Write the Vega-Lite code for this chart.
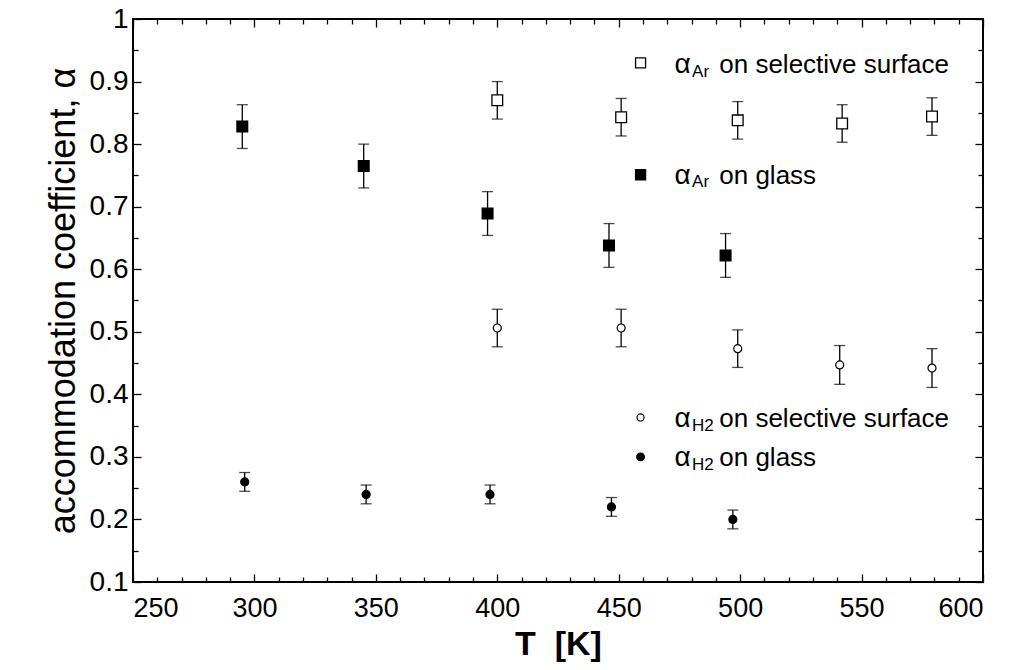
{
  "$schema": "https://vega.github.io/schema/vega-lite/v6.json",
  "width": 850,
  "height": 563,
  "autosize": {"type": "none"},
  "padding": {"left": 133, "top": 19, "right": 26, "bottom": 88},
  "background": "white",
  "config": {
    "view": {"stroke": "black", "strokeWidth": 2},
    "font": "Liberation Sans",
    "axis": {"grid": false, "domain": false, "tickColor": "black", "tickWidth": 1.3, "labelColor": "black", "titleColor": "black", "labelFont": "Liberation Sans", "titleFont": "Liberation Sans"}
  },
  "data": {"values": [
    {"T": 400, "a": 0.870, "lo": 0.840, "hi": 0.900, "series": "Ar_sel"},
    {"T": 451, "a": 0.843, "lo": 0.813, "hi": 0.873, "series": "Ar_sel"},
    {"T": 499, "a": 0.838, "lo": 0.808, "hi": 0.868, "series": "Ar_sel"},
    {"T": 542, "a": 0.833, "lo": 0.803, "hi": 0.863, "series": "Ar_sel"},
    {"T": 579, "a": 0.844, "lo": 0.814, "hi": 0.874, "series": "Ar_sel"},
    {"T": 295, "a": 0.828, "lo": 0.793, "hi": 0.863, "series": "Ar_glass"},
    {"T": 345, "a": 0.765, "lo": 0.730, "hi": 0.800, "series": "Ar_glass"},
    {"T": 396, "a": 0.689, "lo": 0.654, "hi": 0.724, "series": "Ar_glass"},
    {"T": 446, "a": 0.638, "lo": 0.603, "hi": 0.673, "series": "Ar_glass"},
    {"T": 494, "a": 0.622, "lo": 0.587, "hi": 0.657, "series": "Ar_glass"},
    {"T": 400, "a": 0.506, "lo": 0.476, "hi": 0.536, "series": "H2_sel"},
    {"T": 451, "a": 0.506, "lo": 0.476, "hi": 0.536, "series": "H2_sel"},
    {"T": 499, "a": 0.473, "lo": 0.443, "hi": 0.503, "series": "H2_sel"},
    {"T": 541, "a": 0.447, "lo": 0.416, "hi": 0.478, "series": "H2_sel"},
    {"T": 579, "a": 0.442, "lo": 0.411, "hi": 0.473, "series": "H2_sel"},
    {"T": 296, "a": 0.260, "lo": 0.245, "hi": 0.275, "series": "H2_glass"},
    {"T": 346, "a": 0.240, "lo": 0.225, "hi": 0.255, "series": "H2_glass"},
    {"T": 397, "a": 0.240, "lo": 0.225, "hi": 0.255, "series": "H2_glass"},
    {"T": 447, "a": 0.220, "lo": 0.205, "hi": 0.235, "series": "H2_glass"},
    {"T": 497, "a": 0.200, "lo": 0.185, "hi": 0.215, "series": "H2_glass"}
  ]},
  "resolve": {"axis": {"x": "independent", "y": "independent"}},
  "layer": [
    {
      "mark": {"type": "rule", "color": "black", "strokeWidth": 1.3},
      "encoding": {
        "x": {"field": "T", "type": "quantitative", "scale": {"domain": [250, 600], "nice": false, "zero": false},
          "axis": {"orient": "bottom", "values": [250, 300, 350, 400, 450, 500, 550, 600], "ticks": false, "labelFontSize": 27, "labelPadding": 13, "title": "T\u00a0\u00a0[K]", "titleFontSize": 34, "titleFontWeight": "bold", "titlePadding": 6}},
        "y": {"field": "lo", "type": "quantitative", "scale": {"domain": [0.1, 1], "nice": false, "zero": false},
          "axis": {"orient": "left", "values": [0.1, 0.2, 0.3, 0.4, 0.5, 0.6, 0.7, 0.8, 0.9, 1], "format": ".1~f", "ticks": false, "labelFontSize": 28, "labelPadding": 5, "title": "accommodation coefficient, α", "titleFontSize": 36, "titleFontWeight": "normal", "titlePadding": 7}},
        "y2": {"field": "hi"}
      }
    },
    {
      "mark": {"type": "tick", "orient": "horizontal", "color": "black", "size": 11, "thickness": 1.3},
      "encoding": {
        "x": {"field": "T", "type": "quantitative", "scale": {"domain": [250, 600], "nice": false, "zero": false},
          "axis": {"orient": "bottom", "values": [250, 300, 350, 400, 450, 500, 550, 600], "labels": false, "tickSize": -8, "title": null}},
        "y": {"field": "lo", "type": "quantitative", "scale": {"domain": [0.1, 1], "nice": false, "zero": false},
          "axis": {"orient": "left", "values": [0.1, 0.2, 0.3, 0.4, 0.5, 0.6, 0.7, 0.8, 0.9, 1], "labels": false, "tickSize": -8, "title": null}}
      }
    },
    {
      "mark": {"type": "tick", "orient": "horizontal", "color": "black", "size": 11, "thickness": 1.3},
      "encoding": {
        "x": {"field": "T", "type": "quantitative", "scale": {"domain": [250, 600], "nice": false, "zero": false},
          "axis": {"orient": "bottom", "values": [260, 270, 280, 290, 310, 320, 330, 340, 360, 370, 380, 390, 410, 420, 430, 440, 460, 470, 480, 490, 510, 520, 530, 540, 560, 570, 580, 590], "labels": false, "tickSize": -5, "title": null}},
        "y": {"field": "hi", "type": "quantitative", "scale": {"domain": [0.1, 1], "nice": false, "zero": false},
          "axis": {"orient": "left", "values": [0.15, 0.25, 0.35, 0.45, 0.55, 0.65, 0.75, 0.85, 0.95], "labels": false, "tickSize": -5, "title": null}}
      }
    },
    {
      "transform": [{"filter": "datum.series === 'Ar_sel' || datum.series === 'Ar_glass'"}],
      "mark": {"type": "point", "shape": "square", "size": 115, "stroke": "black", "strokeWidth": 1.3, "opacity": 1},
      "encoding": {
        "x": {"field": "T", "type": "quantitative", "scale": {"domain": [250, 600], "nice": false, "zero": false},
          "axis": {"orient": "top", "values": [250, 300, 350, 400, 450, 500, 550, 600], "labels": false, "tickSize": -8, "title": null}},
        "y": {"field": "a", "type": "quantitative", "scale": {"domain": [0.1, 1], "nice": false, "zero": false},
          "axis": {"orient": "right", "values": [0.1, 0.2, 0.3, 0.4, 0.5, 0.6, 0.7, 0.8, 0.9, 1], "labels": false, "tickSize": -8, "title": null}},
        "fill": {"field": "series", "type": "nominal", "scale": {"domain": ["Ar_sel", "Ar_glass"], "range": ["white", "black"]}, "legend": null}
      }
    },
    {
      "transform": [{"filter": "datum.series === 'H2_sel' || datum.series === 'H2_glass'"}],
      "mark": {"type": "point", "shape": "circle", "size": 64, "stroke": "black", "strokeWidth": 1.2, "opacity": 1},
      "encoding": {
        "x": {"field": "T", "type": "quantitative", "scale": {"domain": [250, 600], "nice": false, "zero": false},
          "axis": {"orient": "top", "values": [260, 270, 280, 290, 310, 320, 330, 340, 360, 370, 380, 390, 410, 420, 430, 440, 460, 470, 480, 490, 510, 520, 530, 540, 560, 570, 580, 590], "labels": false, "tickSize": -5, "title": null}},
        "y": {"field": "a", "type": "quantitative", "scale": {"domain": [0.1, 1], "nice": false, "zero": false},
          "axis": {"orient": "right", "values": [0.15, 0.25, 0.35, 0.45, 0.55, 0.65, 0.75, 0.85, 0.95], "labels": false, "tickSize": -5, "title": null}},
        "fill": {"field": "series", "type": "nominal", "scale": {"domain": ["H2_sel", "H2_glass"], "range": ["white", "black"]}, "legend": null}
      }
    },
    {"data": {"values": [{}]}, "mark": {"type": "point", "shape": "square", "size": 100, "fill": "white", "stroke": "black", "strokeWidth": 1.3, "opacity": 1},
      "encoding": {"x": {"datum": 459, "type": "quantitative", "axis": null}, "y": {"datum": 0.930, "type": "quantitative", "axis": null}}},
    {"data": {"values": [{}]}, "mark": {"type": "point", "shape": "square", "size": 100, "fill": "black", "stroke": "black", "strokeWidth": 1.3, "opacity": 1},
      "encoding": {"x": {"datum": 459, "type": "quantitative", "axis": null}, "y": {"datum": 0.751, "type": "quantitative", "axis": null}}},
    {"data": {"values": [{}]}, "mark": {"type": "point", "shape": "circle", "size": 50, "fill": "white", "stroke": "black", "strokeWidth": 1.2, "opacity": 1},
      "encoding": {"x": {"datum": 459, "type": "quantitative", "axis": null}, "y": {"datum": 0.363, "type": "quantitative", "axis": null}}},
    {"data": {"values": [{}]}, "mark": {"type": "point", "shape": "circle", "size": 60, "fill": "black", "stroke": "black", "strokeWidth": 1.2, "opacity": 1},
      "encoding": {"x": {"datum": 459, "type": "quantitative", "axis": null}, "y": {"datum": 0.300, "type": "quantitative", "axis": null}}},

    {"data": {"values": [{}]}, "mark": {"type": "text", "text": "α", "fontSize": 28, "align": "left", "baseline": "alphabetic", "color": "black"},
      "encoding": {"x": {"datum": 473, "type": "quantitative", "axis": null}, "y": {"datum": 0.914, "type": "quantitative", "axis": null}}},
    {"data": {"values": [{}]}, "mark": {"type": "text", "text": "Ar", "fontSize": 17, "align": "left", "baseline": "alphabetic", "color": "black"},
      "encoding": {"x": {"datum": 480.2, "type": "quantitative", "axis": null}, "y": {"datum": 0.908, "type": "quantitative", "axis": null}}},
    {"data": {"values": [{}]}, "mark": {"type": "text", "text": "on selective surface", "fontSize": 26, "align": "left", "baseline": "alphabetic", "color": "black"},
      "encoding": {"x": {"datum": 491.4, "type": "quantitative", "axis": null}, "y": {"datum": 0.914, "type": "quantitative", "axis": null}}},

    {"data": {"values": [{}]}, "mark": {"type": "text", "text": "α", "fontSize": 28, "align": "left", "baseline": "alphabetic", "color": "black"},
      "encoding": {"x": {"datum": 473, "type": "quantitative", "axis": null}, "y": {"datum": 0.737, "type": "quantitative", "axis": null}}},
    {"data": {"values": [{}]}, "mark": {"type": "text", "text": "Ar", "fontSize": 17, "align": "left", "baseline": "alphabetic", "color": "black"},
      "encoding": {"x": {"datum": 480.2, "type": "quantitative", "axis": null}, "y": {"datum": 0.731, "type": "quantitative", "axis": null}}},
    {"data": {"values": [{}]}, "mark": {"type": "text", "text": "on glass", "fontSize": 26, "align": "left", "baseline": "alphabetic", "color": "black"},
      "encoding": {"x": {"datum": 491.4, "type": "quantitative", "axis": null}, "y": {"datum": 0.737, "type": "quantitative", "axis": null}}},

    {"data": {"values": [{}]}, "mark": {"type": "text", "text": "α", "fontSize": 28, "align": "left", "baseline": "alphabetic", "color": "black"},
      "encoding": {"x": {"datum": 473, "type": "quantitative", "axis": null}, "y": {"datum": 0.348, "type": "quantitative", "axis": null}}},
    {"data": {"values": [{}]}, "mark": {"type": "text", "text": "H2", "fontSize": 17, "align": "left", "baseline": "alphabetic", "color": "black"},
      "encoding": {"x": {"datum": 480.2, "type": "quantitative", "axis": null}, "y": {"datum": 0.342, "type": "quantitative", "axis": null}}},
    {"data": {"values": [{}]}, "mark": {"type": "text", "text": "on selective surface", "fontSize": 26, "align": "left", "baseline": "alphabetic", "color": "black"},
      "encoding": {"x": {"datum": 491.4, "type": "quantitative", "axis": null}, "y": {"datum": 0.348, "type": "quantitative", "axis": null}}},

    {"data": {"values": [{}]}, "mark": {"type": "text", "text": "α", "fontSize": 28, "align": "left", "baseline": "alphabetic", "color": "black"},
      "encoding": {"x": {"datum": 473, "type": "quantitative", "axis": null}, "y": {"datum": 0.285, "type": "quantitative", "axis": null}}},
    {"data": {"values": [{}]}, "mark": {"type": "text", "text": "H2", "fontSize": 17, "align": "left", "baseline": "alphabetic", "color": "black"},
      "encoding": {"x": {"datum": 480.2, "type": "quantitative", "axis": null}, "y": {"datum": 0.279, "type": "quantitative", "axis": null}}},
    {"data": {"values": [{}]}, "mark": {"type": "text", "text": "on glass", "fontSize": 26, "align": "left", "baseline": "alphabetic", "color": "black"},
      "encoding": {"x": {"datum": 491.4, "type": "quantitative", "axis": null}, "y": {"datum": 0.285, "type": "quantitative", "axis": null}}}
  ]
}
